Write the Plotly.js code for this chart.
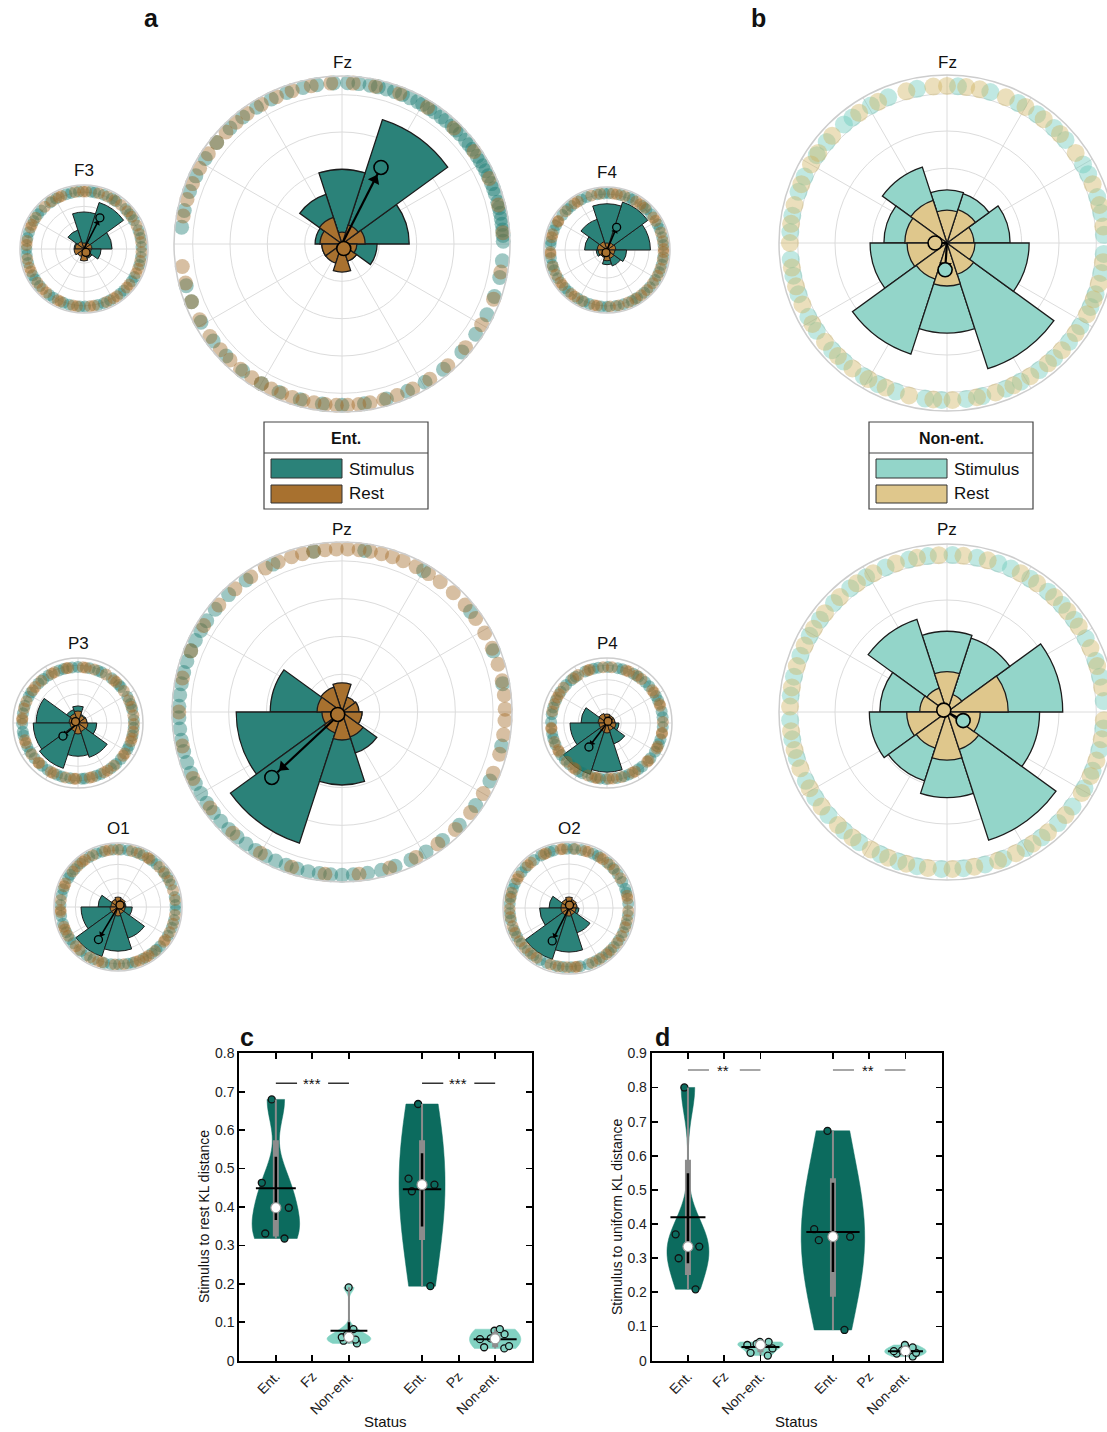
<!DOCTYPE html>
<html><head><meta charset="utf-8">
<script src="https://cdn.plot.ly/plotly-3.0.1.min.js"></script>
<style>html,body{margin:0;padding:0;overflow:hidden;background:#fff}</style>
</head><body><div id="chart" style="width:1120px;height:1432px"></div>
<script>
// ---------- DATA ----------
const binCenters = [18,54,90,126,162,198,234,270,306,342];

// panel a (Ent.) rose histograms: stimulus / rest
const aF3Stim = [0.197,0.344,0.26,0.14,0.07,0.056,0.05,0.063,0.07,0.12];
const aF3Rest = [0.056,0.05,0.042,0.056,0.063,0.07,0.056,0.084,0.063,0.05];
const aFzStim = [0.18,0.35,0.20,0.14,0.072,0.054,0.04,0.04,0.048,0.094];
const aFzRest = [0.062,0.054,0.032,0.075,0.059,0.054,0.054,0.075,0.048,0.04];
const aF4Stim = [0.31,0.36,0.33,0.23,0.16,0.077,0.056,0.105,0.12,0.14];
const aF4Rest = [0.063,0.056,0.05,0.063,0.07,0.063,0.056,0.077,0.063,0.056];
const aP3Stim = [0.062,0.062,0.118,0.097,0.29,0.31,0.33,0.23,0.25,0.13];
const aP3Rest = [0.062,0.055,0.083,0.069,0.062,0.055,0.062,0.076,0.062,0.069];
const aPzStim = [0.026,0.026,0.026,0.053,0.19,0.28,0.365,0.193,0.114,0.053];
const aPzRest = [0.045,0.042,0.077,0.069,0.066,0.053,0.058,0.074,0.069,0.053];
const aP4Stim = [0.055,0.055,0.055,0.062,0.18,0.256,0.374,0.34,0.152,0.083];
const aP4Rest = [0.055,0.055,0.062,0.069,0.062,0.055,0.062,0.069,0.055,0.062];
const aO1Stim = [0.056,0.05,0.05,0.056,0.14,0.26,0.366,0.31,0.23,0.1];
const aO1Rest = [0.05,0.063,0.07,0.056,0.05,0.056,0.056,0.063,0.05,0.05];
const aO2Stim = [0.055,0.055,0.055,0.061,0.136,0.2,0.368,0.3,0.177,0.068];
const aO2Rest = [0.055,0.061,0.075,0.061,0.055,0.055,0.055,0.055,0.048,0.048];
// panel b (Non-ent.)
const bFzStim = [0.169,0.139,0.142,0.214,0.169,0.206,0.313,0.241,0.354,0.22];
const bFzRest = [0.072,0.094,0.088,0.12,0.113,0.107,0.102,0.115,0.088,0.075];
const bPzStim = [0.31,0.208,0.216,0.261,0.18,0.208,0.194,0.229,0.361,0.248];
const bPzRest = [0.164,0.049,0.108,0.067,0.073,0.108,0.102,0.129,0.105,0.089];

// mean resultant vectors [angle deg, length]
const aF3StimMean = [63,0.246], aF3RestMean = [300,0.028];
const aFzStimMean = [63,0.23],  aFzRestMean = [291,0.013];
const aF4StimMean = [67,0.176], aF4RestMean = [250,0.02];
const aP3StimMean = [221,0.138], aP3RestMean = [150,0.02];
const aPzStimMean = [223,0.254], aPzRestMean = [210,0.013];
const aP4StimMean = [233,0.208], aP4RestMean = [60,0.014];
const aO1StimMean = [239,0.267], aO1RestMean = [45,0.02];
const aO2StimMean = [243,0.252], aO2RestMean = [80,0.02];
const bFzStimMean = [266,0.072], bFzRestMean = [180,0.032];
const bPzStimMean = [332,0.049], bPzRestMean = [150,0.01];

// single-trial phases (deg) on the outer ring
const aFzStimDots = [1,3,5,7,9,11,13,15,18,20,22,25,27,29,31,33,36,38,40,43,45,47,50,52,55,57,60,62,65,68,71,74,77,80,84,88,93,99,104,110,116,122,128,134,141,148,155,161,168,174,195,201,209,217,224,232,240,247,255,263,270,278,286,294,301,309,318,326,334,341,348,354];
const aFzRestDots = [4,14,24,35,46,58,69,78,86,94,101,108,114,120,126,131,136,141,146,152,158,164,170,188,194,201,208,215,221,226,231,236,240,244,248,252,256,260,264,268,272,276,280,285,290,296,303,311,320,330,340,350];
const aPzStimDots = [10,22,38,60,82,100,115,126,134,141,146,150,154,158,162,166,170,174,178,182,186,190,194,198,202,206,210,214,218,222,226,230,234,238,242,246,250,254,258,262,266,270,274,279,284,289,295,301,308,316,325,335,348];
const aPzRestDots = [1,6,11,17,23,29,35,41,47,53,58,63,68,72,76,80,84,88,92,96,100,104,108,113,118,124,131,139,148,158,168,180,192,204,216,228,240,252,264,276,287,297,306,314,322,330,338,345,352,357];
const aF3StimDots = [2,11,19,30,37,44,56,61,70,79,83,95,103,108,119,126,138,143,151,163,169,180,186,194,207,212,220,233,238,249,255,266,271,284,290,297,309,314,326,331,344,352];
const aF3RestDots = [7,15,24,34,41,50,58,66,75,88,91,99,113,116,124,133,147,155,158,172,176,190,199,203,216,224,229,243,246,259,263,276,280,293,301,305,318,322,335,340,348,357];
const aF4StimDots = [5,13,22,27,39,46,51,63,67,76,88,93,100,111,117,129,134,142,154,160,171,175,188,195,201,210,222,227,239,246,252,264,270,279,287,296,302,311,319,328,337,345,353];
const aF4RestDots = [1,9,18,31,35,48,54,59,72,80,84,97,106,121,125,137,149,150,164,167,182,184,197,206,215,218,231,235,244,257,260,273,282,292,300,307,315,324,333,341,350,358];
const aP3StimDots = [3,14,20,28,40,43,53,65,69,78,90,96,105,110,122,128,135,147,152,162,170,181,189,193,205,211,219,230,237,248,253,262,274,277,289,294,306,313,320,332,336,347,355];
const aP3RestDots = [8,17,24,35,47,50,60,73,82,85,100,102,115,118,131,140,144,157,165,175,177,198,201,214,225,226,241,244,257,266,268,282,285,298,302,310,324,327,341,344,351,359];
const aP4StimDots = [6,12,24,29,41,47,56,62,74,79,89,99,104,113,124,130,137,146,156,164,171,179,191,196,203,215,221,228,240,244,254,263,269,280,288,293,304,309,321,329,338,343,356];
const aP4RestDots = [1,18,20,33,36,52,58,67,70,85,94,108,110,121,127,141,149,153,160,168,185,186,200,209,211,224,233,236,250,258,260,272,276,285,297,300,316,318,333,335,349,350];
const aO1StimDots = [2,10,23,31,38,48,54,64,71,80,87,95,106,112,120,131,139,146,150,162,168,178,189,197,206,214,219,230,237,245,256,263,271,280,285,296,306,312,317,330,339,347,357];
const aO1RestDots = [7,17,27,36,44,57,59,68,76,90,99,103,116,125,128,135,142,156,159,173,183,185,200,203,210,223,228,241,250,254,267,276,288,292,299,302,310,323,325,334,343,352];
const aO2StimDots = [4,15,19,26,35,42,50,61,66,78,86,92,105,109,118,126,137,143,156,161,169,176,185,192,202,209,217,226,233,241,248,257,264,272,281,289,297,304,312,319,327,336,344,353];
const aO2RestDots = [9,12,30,40,47,55,58,71,74,84,96,98,113,115,130,134,148,151,165,171,181,189,198,205,214,222,230,237,252,260,268,276,278,293,301,309,315,324,332,341,348,357];
const bFzStimDots = [3,11,17,26,30,41,47,55,63,74,86,101,112,119,127,131,140,146,155,161,170,176,186,192,199,208,214,223,229,238,244,251,262,268,277,283,292,298,306,313,321,328,336,341,349,356];
const bFzRestDots = [6,14,22,35,44,52,60,68,78,83,90,95,105,116,124,137,145,150,158,166,173,180,189,196,203,211,219,226,233,240,247,256,265,272,281,288,295,302,310,317,325,333,339,345,353];
const bPzStimDots = [4,13,19,28,36,43,50,58,66,71,79,88,97,104,113,121,128,136,144,151,159,167,174,183,190,197,206,213,221,229,236,245,252,259,268,276,284,291,300,307,315,323,331,338,346,354];
const bPzRestDots = [9,17,24,33,40,47,55,62,75,84,93,101,109,118,125,133,141,148,155,163,171,178,187,194,201,209,217,226,233,241,248,255,263,272,280,289,296,303,310,319,329,336,342,350,357];

// panels c, d: per-subject KL distances
const xTickVals = [1,2,3,5,6,7];
const xTickText = ['Ent.','Fz','Non-ent.','Ent.','Pz','Non-ent.'];
const groupPos = [1,3,5,7];
const cFzEnt = [0.68,0.463,0.398,0.331,0.318];
const cFzNon = [0.191,0.082,0.067,0.045,0.052,0.055,0.061];
const cPzEnt = [0.668,0.474,0.458,0.441,0.194];
const cPzNon = [0.082,0.069,0.078,0.058,0.056,0.032,0.038,0.035];
const dFzEnt = [0.80,0.37,0.334,0.30,0.209];
const dFzNon = [0.055,0.023,0.015,0.036,0.049,0.055,0.046];
const dPzEnt = [0.673,0.385,0.363,0.353,0.09];
const dPzNon = [0.046,0.028,0.039,0.012,0.021,0.023,0.03];
const cMean = [0.449,0.078,0.446,0.056];
const cCI = [[0.366,0.531],[0.055,0.1],[0.349,0.54],[0.045,0.066]];
const cIQR = [[0.323,0.574],[0.052,0.082],[0.314,0.574],[0.035,0.075]];
const dMean = [0.42,0.04,0.377,0.028];
const dCI = [[0.285,0.549],[0.032,0.05],[0.26,0.521],[0.02,0.036]];
const dIQR = [[0.251,0.588],[0.025,0.055],[0.187,0.534],[0.018,0.04]];

// ---------- STYLE / LAYOUT ----------
const W = 1120, H = 1432;
const px = x => x / W, py = y => 1 - y / H;
const FONT = 'Liberation Sans, Arial, Helvetica, sans-serif';
const COL = {
  entStim:'#2b8279', entRest:'#a8712f', nonStim:'#93d5c9', nonRest:'#dfc78c',
  entStimDot:'rgba(25,122,112,0.42)', entRestDot:'rgba(160,102,34,0.42)',
  nonStimDot:'rgba(105,200,186,0.42)', nonRestDot:'rgba(208,178,96,0.42)',
  entViolin:'#0c6b5e', nonViolin:'#82d2c2'
};
const RMAX = 0.45;

const polars = [
  {title:'F3', cx:84,  cy:249, R:64,  ty:171, dotR:0.9,  ent:true,  stim:aF3Stim, rest:aF3Rest, sm:aF3StimMean, rm:aF3RestMean, sd:aF3StimDots, rd:aF3RestDots},
  {title:'Fz', cx:342, cy:244, R:168, ty:62,  dotR:0.96, ent:true,  stim:aFzStim, rest:aFzRest, sm:aFzStimMean, rm:aFzRestMean, sd:aFzStimDots, rd:aFzRestDots},
  {title:'F4', cx:607, cy:250, R:63,  ty:173, dotR:0.9,  ent:true,  stim:aF4Stim, rest:aF4Rest, sm:aF4StimMean, rm:aF4RestMean, sd:aF4StimDots, rd:aF4RestDots},
  {title:'P3', cx:78,  cy:723, R:65,  ty:643, dotR:0.86, ent:true,  stim:aP3Stim, rest:aP3Rest, sm:aP3StimMean, rm:aP3RestMean, sd:aP3StimDots, rd:aP3RestDots},
  {title:'Pz', cx:342, cy:712, R:170, ty:530, dotR:0.96, ent:true,  stim:aPzStim, rest:aPzRest, sm:aPzStimMean, rm:aPzRestMean, sd:aPzStimDots, rd:aPzRestDots},
  {title:'P4', cx:607, cy:723, R:65,  ty:643, dotR:0.86, ent:true,  stim:aP4Stim, rest:aP4Rest, sm:aP4StimMean, rm:aP4RestMean, sd:aP4StimDots, rd:aP4RestDots},
  {title:'O1', cx:118, cy:907, R:64,  ty:828, dotR:0.9,  ent:true,  stim:aO1Stim, rest:aO1Rest, sm:aO1StimMean, rm:aO1RestMean, sd:aO1StimDots, rd:aO1RestDots},
  {title:'O2', cx:569, cy:908, R:66,  ty:828, dotR:0.9,  ent:true,  stim:aO2Stim, rest:aO2Rest, sm:aO2StimMean, rm:aO2RestMean, sd:aO2StimDots, rd:aO2RestDots},
  {title:'Fz', cx:947, cy:243, R:168, ty:62,  dotR:0.935,ent:false, stim:bFzStim, rest:bFzRest, sm:bFzStimMean, rm:bFzRestMean, sd:bFzStimDots, rd:bFzRestDots},
  {title:'Pz', cx:947, cy:712, R:168, ty:530, dotR:0.935,ent:false, stim:bPzStim, rest:bPzRest, sm:bPzStimMean, rm:bPzRestMean, sd:bPzStimDots, rd:bPzRestDots}
];

const traces = [];
const layout = {
  width: W, height: H, margin:{l:0,r:0,t:0,b:0},
  paper_bgcolor:'#fff', plot_bgcolor:'#fff', showlegend:false,
  font:{family:FONT, color:'#1a1a1a'},
  violinmode:'overlay', violingap:0,
  shapes:[], annotations:[]
};
function note(x, y, text, size, extra) {
  layout.annotations.push(Object.assign({xref:'paper', yref:'paper', x:px(x), y:py(y), text:text, showarrow:false,
    xanchor:'center', yanchor:'middle', font:{size:size, family:FONT, color:'#111'}}, extra || {}));
}

polars.forEach((p, i) => {
  const sub = i === 0 ? 'polar' : 'polar' + (i + 1);
  const big = p.R > 100;
  const sCol = p.ent ? COL.entStim : COL.nonStim;
  const rCol = p.ent ? COL.entRest : COL.nonRest;
  layout[sub] = {
    domain:{x:[px(p.cx - p.R), px(p.cx + p.R)], y:[py(p.cy + p.R), py(p.cy - p.R)]},
    bgcolor:'rgba(0,0,0,0)', bargap:0, barmode:'overlay',
    radialaxis:{range:[0,RMAX], autorange:false, tickvals:[0.1,0.2,0.3,0.4], showticklabels:false, ticks:'', showline:false, gridcolor:'#dcdcdc', gridwidth:1},
    angularaxis:{tickmode:'linear', tick0:0, dtick:30, showticklabels:false, ticks:'', gridcolor:'#dcdcdc', gridwidth:1, showline:true, linecolor:'#cdcdcd', linewidth:1.5}
  };
  const dotSize = big ? (p.ent ? 15 : 18) : 12;
  [[p.sd, p.ent ? COL.entStimDot : COL.nonStimDot], [p.rd, p.ent ? COL.entRestDot : COL.nonRestDot]].forEach(([arr, c]) => {
    traces.push({type:'scatterpolar', subplot:sub, mode:'markers', cliponaxis:false,
      r: arr.map(() => RMAX * p.dotR), theta: arr,
      marker:{size:dotSize, color:c, line:{width:0}}, hoverinfo:'skip'});
  });
  traces.push({type:'barpolar', subplot:sub, r:p.stim, theta:binCenters, width:36,
    marker:{color:sCol, line:{color:'#1c1c1c', width:big?1.3:1}}, hoverinfo:'skip'});
  traces.push({type:'barpolar', subplot:sub, r:p.rest, theta:binCenters, width:36,
    marker:{color:rCol, line:{color:'#1c1c1c', width:big?1.3:1}}, hoverinfo:'skip'});
  [[p.sm, sCol], [p.rm, rCol]].forEach(([m, c]) => {
    traces.push({type:'scatterpolar', subplot:sub, mode:'lines', r:[0, m[1]*0.92], theta:[m[0], m[0]],
      line:{color:'#000', width:big?2.2:1.6}, hoverinfo:'skip'});
    if (m[1] > 0.06) {
      traces.push({type:'scatterpolar', subplot:sub, mode:'markers', r:[m[1]*0.84], theta:[m[0]],
        marker:{symbol:'triangle-up', size:big?11:6, color:'#000', angle:90 - m[0], line:{width:0}}, hoverinfo:'skip'});
    }
    traces.push({type:'scatterpolar', subplot:sub, mode:'markers', r:[m[1]], theta:[m[0]],
      marker:{symbol:'circle', size:big?14:8, color:c, line:{color:'#000', width:big?1.6:1.3}}, hoverinfo:'skip'});
  });
  note(p.cx, p.ty, p.title, 17);
});

// legends
function legendBox(x0, title, sCol, rCol) {
  const x1 = x0 + 164, y0 = 422, y1 = 509;
  layout.shapes.push({type:'rect', xref:'paper', yref:'paper', x0:px(x0), x1:px(x1), y0:py(y1), y1:py(y0), line:{color:'#444', width:1.2}, fillcolor:'#fff'});
  layout.shapes.push({type:'line', xref:'paper', yref:'paper', x0:px(x0), x1:px(x1), y0:py(453), y1:py(453), line:{color:'#444', width:1.2}});
  layout.shapes.push({type:'rect', xref:'paper', yref:'paper', x0:px(x0+7), x1:px(x0+78), y0:py(478), y1:py(459), line:{color:'#333', width:1}, fillcolor:sCol});
  layout.shapes.push({type:'rect', xref:'paper', yref:'paper', x0:px(x0+7), x1:px(x0+78), y0:py(503), y1:py(485), line:{color:'#333', width:1}, fillcolor:rCol});
  note((x0+x1)/2, 438, '<b>'+title+'</b>', 16);
  note(x0+83, 469, 'Stimulus', 17, {xanchor:'left'});
  note(x0+83, 494, 'Rest', 17, {xanchor:'left'});
}
legendBox(264, 'Ent.', COL.entStim, COL.entRest);
legendBox(869, 'Non-ent.', COL.nonStim, COL.nonRest);

// panel letters
[['a',151,18],['b',758,18],['c',247,1037],['d',662,1037]].forEach(([t,x,y]) => note(x, y, '<b>'+t+'</b>', 25));

// violin panels
function axisStyle(extra) {
  return Object.assign({showline:true, linewidth:2, linecolor:'#000', mirror:'ticks', ticks:'inside', ticklen:6, tickwidth:1.8, tickcolor:'#000',
    showgrid:false, zeroline:false, tickfont:{size:14, family:FONT, color:'#222'}, fixedrange:true}, extra);
}
const panels = [
  {xa:'x', ya:'y', xk:'xaxis', yk:'yaxis', x0:239.3, x1:531.7, ymax:0.8, groups:[cFzEnt,cFzNon,cPzEnt,cPzNon], mean:cMean, ci:cCI, iqr:cIQR,
   widths:[1.3,1.2,1.25,1.4], bws:[0.06,0.012,0.2,0.03], sig:'***', sigY:0.722, sigCol:'#333', ytitle:'Stimulus to rest KL distance', ytx:204},
  {xa:'x2', ya:'y2', xk:'xaxis2', yk:'yaxis2', x0:651.7, x1:941.7, ymax:0.9, groups:[dFzEnt,dFzNon,dPzEnt,dPzNon], mean:dMean, ci:dCI, iqr:dIQR,
   widths:[1.15,1.25,1.75,1.15], bws:[0.075,0.012,0.2,0.012], sig:'**', sigY:0.851, sigCol:'#8a8a8a', ytitle:'Stimulus to uniform KL distance', ytx:617}
];
panels.forEach(P => {
  layout[P.xk] = axisStyle({domain:[px(P.x0), px(P.x1)], range:[0,8], tickvals:xTickVals, ticktext:xTickText, tickangle:-45, anchor:P.ya});
  layout[P.yk] = axisStyle({domain:[py(1360.7), py(1053.3)], range:[0,P.ymax], dtick:0.1, tick0:0, anchor:P.xa});
  P.groups.forEach((vals, g) => {
    const pos = groupPos[g];
    const ent = g % 2 === 0;
    const fc = ent ? COL.entViolin : COL.nonViolin;
    traces.push({type:'violin', xaxis:P.xa, yaxis:P.ya, x0:pos, y:vals, name:'g'+g,
      fillcolor:fc, line:{color:fc, width:0.5}, opacity:1, spanmode:'hard', bandwidth:P.bws[g], width:P.widths[g], scalemode:'width',
      points:'all', pointpos:0, jitter:0.7,
      marker:{size:7, color:fc, line:{color:'#111', width:1.3}},
      box:{visible:false}, meanline:{visible:false}, hoverinfo:'skip', showlegend:false});
    const sorted = vals.slice().sort((a,b)=>a-b);
    const n = sorted.length;
    const med = n % 2 ? sorted[(n-1)/2] : (sorted[n/2-1] + sorted[n/2]) / 2;
    const lo = sorted[0], hi = sorted[n-1];
    const half = P.widths[g] * 0.42;
    traces.push({type:'scatter', xaxis:P.xa, yaxis:P.ya, mode:'lines', x:[pos,pos], y:[lo,hi], line:{color:'#8c8c8c', width:2}, hoverinfo:'skip'});
    traces.push({type:'scatter', xaxis:P.xa, yaxis:P.ya, mode:'lines', x:[pos,pos], y:P.iqr[g], line:{color:'#8c8c8c', width:6}, hoverinfo:'skip'});
    traces.push({type:'scatter', xaxis:P.xa, yaxis:P.ya, mode:'lines', x:[pos,pos], y:P.ci[g], line:{color:'#000', width:2.5}, hoverinfo:'skip'});
    traces.push({type:'scatter', xaxis:P.xa, yaxis:P.ya, mode:'lines', x:[pos-half,pos+half], y:[P.mean[g],P.mean[g]], line:{color:'#000', width:2}, hoverinfo:'skip'});
    traces.push({type:'scatter', xaxis:P.xa, yaxis:P.ya, mode:'markers', x:[pos], y:[med], marker:{size:10, color:'#fff', line:{color:'#999', width:1.2}}, hoverinfo:'skip'});
  });
  [[1,1.58],[2.43,3],[5,5.58],[6.43,7]].forEach(([a,b]) => {
    layout.shapes.push({type:'line', xref:P.xa, yref:P.ya, x0:a, x1:b, y0:P.sigY, y1:P.sigY, line:{color:P.sigCol, width:1.5}});
  });
  [1.98, 5.98].forEach(x => {
    layout.annotations.push({xref:P.xa, yref:P.ya, x:x, y:P.sigY, text:P.sig, showarrow:false, xanchor:'center', yanchor:'middle', font:{size:15, family:FONT, color:'#111'}});
  });
  note(P.ytx, 1217, P.ytitle, 14, {textangle:-90});
  note((P.x0+P.x1)/2, 1421, 'Status', 15);
});

Plotly.newPlot('chart', traces, layout, {displayModeBar:false, staticPlot:true});
</script></body></html>
